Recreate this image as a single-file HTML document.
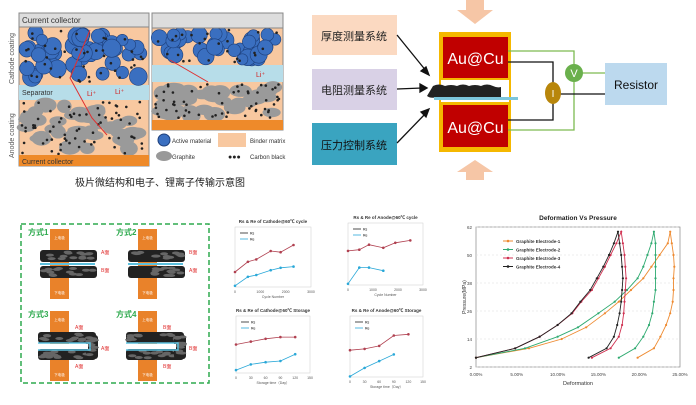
<!DOCTYPE html>
<html><head><meta charset="utf-8"><style>
html,body{margin:0;padding:0;background:#fff;width:696px;height:405px;overflow:hidden}
svg{display:block}
text{font-family:"Liberation Sans","Noto Sans CJK SC",sans-serif}
</style></head><body>
<svg id="s" width="696" height="405" viewBox="0 0 696 405" xmlns="http://www.w3.org/2000/svg">
<rect x="19" y="13" width="130" height="153" fill="#f8c8a0" stroke="#888" stroke-width="1"/>
<rect x="19" y="85" width="130" height="15" fill="#b7dde9"/>
<rect x="152" y="13" width="131" height="117" fill="#f8c8a0" stroke="#888"/>
<rect x="152" y="65" width="131" height="17" fill="#b7dde9"/>
<g id="parts"></g>
<rect x="19" y="13" width="130" height="14" fill="#ddd" stroke="#888"/>
<text x="22" y="23" font-size="8" fill="#333">Current collector</text>
<text x="22" y="95" font-size="7" fill="#333">Separator</text>
<rect x="19" y="155" width="130" height="11" fill="#ee8a2a"/>
<text x="22" y="164" font-size="7" fill="#333">Current collector</text>
<rect x="152" y="13" width="131" height="15" fill="#ddd" stroke="#888"/>
<rect x="152" y="120" width="131" height="10" fill="#ee8a2a"/>
<text x="0" y="0" font-size="7" fill="#555" transform="translate(14,84) rotate(-90)">Cathode coating</text>
<text x="0" y="0" font-size="7" fill="#555" transform="translate(14,158) rotate(-90)">Anode coating</text>
<polyline points="90,30 70,78 92,118 107,135" fill="none" stroke="#e03030" stroke-width="1"/>
<polyline points="170,60 208,82" fill="none" stroke="#e03030" stroke-width="1"/>
<text x="87" y="96" font-size="7" fill="#d02020">Li⁺</text>
<text x="115" y="94" font-size="7" fill="#d02020">Li⁺</text>
<text x="256" y="77" font-size="7" fill="#d02020">Li⁺</text>
<circle cx="164" cy="140" r="6" fill="#3a6fc0" stroke="#1d3f7a"/>
<text x="172" y="143" font-size="6" fill="#333">Active material</text>
<rect x="218" y="133" width="28" height="14" fill="#f8c8a0"/>
<text x="250" y="143" font-size="6" fill="#333">Binder matrix</text>
<ellipse cx="164" cy="156" rx="8" ry="5" fill="#999"/>
<text x="172" y="159" font-size="6" fill="#333">Graphite</text>
<text x="228" y="159" font-size="7" fill="#222">●●●</text>
<text x="250" y="159" font-size="6" fill="#333">Carbon black</text>
<text x="160" y="186" font-size="10" fill="#222" text-anchor="middle">极片微结构和电子、锂离子传输示意图</text>

<polygon points="466,0 484,0 484,10 493,10 475,24 457,10 466,10" fill="#f6c6a6"/>
<polygon points="466,180 484,180 484,172 493,172 475,160 457,172 466,172" fill="#f6c6a6"/>
<rect x="312" y="15" width="85" height="40" fill="#fbd9c1"/>
<text x="354" y="40" font-size="11" text-anchor="middle" fill="#222">厚度测量系统</text>
<rect x="312" y="69" width="85" height="41" fill="#d9d1e6"/>
<text x="354" y="94" font-size="11" text-anchor="middle" fill="#222">电阻测量系统</text>
<rect x="312" y="123" width="85" height="42" fill="#3aa4c0"/>
<text x="354" y="149" font-size="11" text-anchor="middle" fill="#111">压力控制系统</text>
<g stroke="#111" stroke-width="1.3" fill="#111">
<line x1="397" y1="35" x2="427" y2="72"/><polygon points="429,75 421,71 426,67"/>
<line x1="397" y1="89" x2="422" y2="88"/><polygon points="427,88 420,84 420,92"/>
<line x1="397" y1="143" x2="427" y2="112"/><polygon points="429,109 421,112 426,117"/>
</g>
<rect x="439" y="32" width="72" height="120" fill="#f5b800"/>
<rect x="443" y="37" width="65" height="41" fill="#c00000"/>
<rect x="443" y="105" width="65" height="42" fill="#c00000"/>
<rect x="441" y="80" width="68" height="22" fill="#fff"/>
<path d="M433,86 q6,-3 12,0 q6,-2 12,0 q6,-3 12,0 q6,-2 12,0 q6,-3 12,0 q4,2 8,1 l0,10 q-8,3 -16,0 q-8,3 -16,0 q-8,3 -16,0 q-8,3 -16,0 q-6,2 -10,-1z" fill="#222"/>
<rect x="434" y="97" width="84" height="3" fill="#7cc6dc"/>
<text x="475.5" y="64" font-size="16" text-anchor="middle" fill="#fff">Au@Cu</text>
<text x="475.5" y="133" font-size="16" text-anchor="middle" fill="#fff">Au@Cu</text>
<g fill="none" stroke="#7dbb52" stroke-width="1.3">
<polyline points="508,51 574,51 574,130 508,130"/>
<line x1="574" y1="73" x2="606" y2="73"/>
</g>
<g fill="none" stroke="#111" stroke-width="1.3">
<polyline points="508,62 553,62 553,120 508,120"/>
<line x1="553" y1="94" x2="606" y2="94"/>
</g>
<ellipse cx="553" cy="93" rx="8" ry="11" fill="#b8860b"/>
<text x="553" y="97" font-size="10" fill="#fff" text-anchor="middle">I</text>
<circle cx="574" cy="73" r="9" fill="#6ab04c"/>
<text x="574" y="77" font-size="11" fill="#fff" text-anchor="middle">V</text>
<rect x="605" y="63" width="62" height="42" fill="#bcd9ee"/>
<text x="636" y="89" font-size="12" text-anchor="middle" fill="#111">Resistor</text>

<rect x="21" y="224" width="188" height="159" fill="none" stroke="#2eaa4e" stroke-width="1.5" stroke-dasharray="5,3"/>
<g id="modes"></g>
<g id="charts"></g>
</svg>
<script>
var s=document.getElementById('parts'),h='';
var seed=7;function r(){seed=(seed*9301+49297)%233280;return seed/233280;}
function circ(x0,y0,w,hh,n,rad,fill,st){for(var i=0;i<n;i++){var x=x0+r()*w,y=y0+r()*hh,rr=rad*(0.75+r()*0.5);h+='<circle cx="'+x.toFixed(1)+'" cy="'+y.toFixed(1)+'" r="'+rr.toFixed(1)+'" fill="'+fill+'" stroke="'+st+'" stroke-width="0.6"/>';}}
function ell(x0,y0,w,hh,n){for(var i=0;i<n;i++){var x=x0+r()*w,y=y0+r()*hh;h+='<ellipse cx="'+x.toFixed(1)+'" cy="'+y.toFixed(1)+'" rx="'+(7+r()*5).toFixed(1)+'" ry="'+(4.5+r()*3).toFixed(1)+'" fill="#9a9a9a"/>';}}
function dots(x0,y0,w,hh,n){for(var i=0;i<n;i++){h+='<circle cx="'+(x0+r()*w).toFixed(1)+'" cy="'+(y0+r()*hh).toFixed(1)+'" r="1.3" fill="#222"/>';}}
circ(26,32,116,48,48,7.5,'#3a6fc0','#1d3f7a');dots(22,30,124,52,40);
ell(26,105,116,46,38);dots(22,102,124,52,70);
circ(159,32,118,28,36,7.5,'#3a6fc0','#1d3f7a');dots(155,30,125,33,25);
ell(159,87,118,29,36);dots(155,84,125,35,60);
s.innerHTML=h;
h='';
function stack(x,y,w,hh){var o='<rect x="'+x+'" y="'+y+'" width="'+w+'" height="'+hh+'" rx="3" fill="#222"/>';for(var i=0;i<14;i++)o+='<ellipse cx="'+(x+3+r()*(w-6)).toFixed(1)+'" cy="'+(y+2+r()*(hh-4)).toFixed(1)+'" rx="4" ry="1.5" fill="#666"/>';return o;}
function mode(x,y,label,bent,la,lb){var o='<text x="'+x+'" y="'+(y+7)+'" font-size="8" font-weight="bold" fill="#2eaa4e">'+label+'</text>';
o+='<rect x="'+(x+22)+'" y="'+(y+1)+'" width="19" height="70" fill="#e9822a"/>';
o+='<text x="'+(x+31.5)+'" y="'+(y+11)+'" font-size="3.5" fill="#fff" text-anchor="middle">上电极</text><text x="'+(x+31.5)+'" y="'+(y+66)+'" font-size="3.5" fill="#fff" text-anchor="middle">下电极</text>';
if(!bent){o+=stack(x+12,y+22,57,12)+stack(x+12,y+38,57,12)+'<rect x="'+(x+12)+'" y="'+(y+35)+'" width="55" height="2" fill="#5bc0de"/>';
o+='<text x="'+(x+73)+'" y="'+(y+26)+'" font-size="5" fill="#e03030">'+la+'</text><text x="'+(x+73)+'" y="'+(y+44)+'" font-size="5" fill="#e03030">'+lb+'</text>';}
else{o+=stack(x+10,y+22,58,11)+stack(x+10,y+39,58,11)+stack(x+58,y+25,12,24)+'<polyline points="'+(x+10)+','+(y+33)+' '+(x+62)+','+(y+33)+' '+(x+62)+','+(y+40)+' '+(x+10)+','+(y+40)+'" fill="none" stroke="#5bc0de" stroke-width="1.5"/><rect x="'+(x+10)+'" y="'+(y+34)+'" width="50" height="5" fill="#fff"/>';
o+='<text x="'+(x+47)+'" y="'+(y+19)+'" font-size="5" fill="#e03030">'+la+'</text><text x="'+(x+73)+'" y="'+(y+40)+'" font-size="5" fill="#e03030">'+la+'</text><text x="'+(x+47)+'" y="'+(y+58)+'" font-size="5" fill="#e03030">'+lb+'</text>';}
return o;}
h+=mode(28,228,'方式1',0,'A面','B面')+mode(116,228,'方式2',0,'B面','A面')+mode(28,310,'方式3',1,'A面','A面')+mode(116,310,'方式4',1,'B面','B面');
document.getElementById('modes').innerHTML=h;
h='';
function chart(x0,y0,w,hh,title,xl,xt,rs,re){var o='<text x="'+(x0+w/2)+'" y="'+(y0-4)+'" font-size="4.5" font-weight="bold" text-anchor="middle" fill="#333">'+title+'</text>';
o+='<rect x="'+x0+'" y="'+y0+'" width="'+w+'" height="'+hh+'" fill="none" stroke="#ccc" stroke-width="0.5"/>';
for(var i=0;i<xt.length;i++)o+='<text x="'+(x0+i*w/(xt.length-1))+'" y="'+(y0+hh+6)+'" font-size="3.5" text-anchor="middle" fill="#555">'+xt[i]+'</text>';
o+='<text x="'+(x0+w/2)+'" y="'+(y0+hh+11)+'" font-size="3.5" text-anchor="middle" fill="#555">'+xl+'</text>';
function pl(d,c){var p=d.map(function(v){return (x0+v[0]*w).toFixed(1)+','+(y0+hh-v[1]*hh).toFixed(1)}).join(' ');var q='<polyline points="'+p+'" fill="none" stroke="'+c+'" stroke-width="0.8"/>';d.forEach(function(v){q+='<circle cx="'+(x0+v[0]*w).toFixed(1)+'" cy="'+(y0+hh-v[1]*hh).toFixed(1)+'" r="1.3" fill="'+c+'"/>'});return q;}
o+=pl(rs,'#b04050')+pl(re,'#2aa8d8');
o+='<line x1="'+(x0+5)+'" y1="'+(y0+6)+'" x2="'+(x0+13)+'" y2="'+(y0+6)+'" stroke="#222" stroke-width="0.8"/><text x="'+(x0+15)+'" y="'+(y0+7.5)+'" font-size="3.5">Rs</text>';
o+='<line x1="'+(x0+5)+'" y1="'+(y0+12)+'" x2="'+(x0+13)+'" y2="'+(y0+12)+'" stroke="#2aa8d8" stroke-width="0.8"/><text x="'+(x0+15)+'" y="'+(y0+13.5)+'" font-size="3.5">Re</text>';
return o;}
h+=chart(235,227,76,60,'Rs & Re of Cathode@60℃ cycle','Cycle Number',['0','1000','2000','3000'],[[0,.25],[.17,.42],[.28,.46],[.47,.6],[.6,.58],[.77,.7]],[[0,.02],[.17,.17],[.28,.2],[.47,.28],[.6,.32],[.77,.34]]);
h+=chart(348,223,75,62,'Rs & Re of Anode@60℃ cycle','Cycle Number',['0','1000','2000','3000'],[[0,.55],[.15,.57],[.28,.65],[.47,.6],[.63,.68],[.83,.72]],[[0,.02],[.15,.28],[.28,.28],[.47,.23]]);
h+=chart(236,316,74,57,'Rs & Re of Cathode@60℃ Storage','Storage time（Day）',['0','30','60','90','120','150'],[[0,.5],[.2,.55],[.4,.6],[.6,.63],[.8,.63]],[[0,.05],[.2,.15],[.4,.19],[.6,.21],[.8,.33]]);
h+=chart(350,316,73,61,'Rs & Re of Anode@60℃ Storage','Storage time（Day）',['0','30','60','90','120','150'],[[0,.44],[.2,.46],[.4,.51],[.6,.68],[.8,.7]],[[0,.01],[.2,.15],[.4,.26],[.6,.37]]);
var X0=476,Y0=227,W=204,H=140;
h+='<text x="'+(X0+W/2)+'" y="220" font-size="6.5" font-weight="bold" text-anchor="middle" fill="#222">Deformation Vs Pressure</text>';
h+='<rect x="'+X0+'" y="'+Y0+'" width="'+W+'" height="'+H+'" fill="none" stroke="#888" stroke-width="0.7"/>';
var yt=[2,14,26,38,50,62];yt.forEach(function(v){var y=Y0+H-(v-2)/60*H;h+='<line x1="'+X0+'" y1="'+y+'" x2="'+(X0+W)+'" y2="'+y+'" stroke="#ddd" stroke-width="0.5" stroke-dasharray="2,2"/><text x="'+(X0-4)+'" y="'+(y+2)+'" font-size="4.5" text-anchor="end" fill="#444">'+v+'</text>';});
['0.00%','5.00%','10.00%','15.00%','20.00%','25.00%'].forEach(function(t,i){h+='<text x="'+(X0+i*W/5)+'" y="'+(Y0+H+9)+'" font-size="4.5" text-anchor="middle" fill="#444">'+t+'</text>';});
h+='<text x="'+(X0+W/2)+'" y="'+(Y0+H+18)+'" font-size="5.5" text-anchor="middle" fill="#333">Deformation</text>';
h+='<text transform="translate(466,'+(Y0+H/2)+') rotate(-90)" font-size="5" text-anchor="middle" fill="#333">Pressure(MPa)</text>';
function px(d){return X0+d/25*W;}function py(p){return Y0+H-(p-2)/60*H;}
function curve(up,dn,c){var pts=up.concat(dn);var p=pts.map(function(v){return px(v[0]).toFixed(1)+','+py(v[1]).toFixed(1)}).join(' ');var o='<polyline points="'+p+'" fill="none" stroke="'+c+'" stroke-width="0.9"/>';pts.forEach(function(v){o+='<circle cx="'+px(v[0]).toFixed(1)+'" cy="'+py(v[1]).toFixed(1)+'" r="1.1" fill="'+c+'"/>'});return o;}
h+=curve([[0,6],[6.5,10],[10.5,14],[13.5,19],[15.8,25],[17.5,30],[19,35],[20.5,40],[21.5,45],[22.5,50],[23.5,55],[23.8,60]],[[24,55],[24.2,50],[24.3,45],[24.2,40],[24.2,35],[24.1,30],[23.8,25],[23.3,20],[22.6,15],[21.8,10],[19.8,6]],'#ee8a30');
h+=curve([[0,6],[6,10],[10,15],[12.5,19],[15,25],[17,30],[18.5,35],[19.8,40],[20.5,45],[21,50],[21.5,55],[21.8,60]],[[22,55],[22,50],[22,45],[22,40],[22,35],[21.8,30],[21.6,25],[21.2,20],[20.5,15],[19.5,10],[17.5,6]],'#2eaa70');
h+=curve([[0,6],[4.8,10],[7.8,15],[10,20],[11.8,25],[12.9,30],[14.2,35],[15,40],[15.8,45],[16.5,50],[17.2,55],[17.8,60]],[[18,55],[18.2,50],[18.3,45],[18.4,40],[18.3,35],[18.2,30],[18.1,25],[17.9,20],[17.5,15],[16.5,10],[14.2,6]],'#d03050');
h+=curve([[0,6],[4.8,10],[7.8,15],[10,20],[11.7,25],[12.8,30],[14,35],[14.8,40],[15.6,45],[16.3,50],[16.9,55],[17.4,60]],[[17.6,55],[17.8,50],[17.9,45],[18,40],[17.9,35],[17.8,30],[17.6,25],[17.3,20],[16.9,15],[16,10],[13.8,6]],'#222');
var lg=[['Graphite Electrode-1','#ee8a30'],['Graphite Electrode-2','#2eaa70'],['Graphite Electrode-3','#d03050'],['Graphite Electrode-4','#222']];
lg.forEach(function(l,i){var y=241+i*8.5;h+='<line x1="503" y1="'+y+'" x2="513" y2="'+y+'" stroke="'+l[1]+'"/><circle cx="508" cy="'+y+'" r="1.3" fill="'+l[1]+'"/><text x="516" y="'+(y+1.8)+'" font-size="4.5" font-weight="bold" fill="#333">'+l[0]+'</text>';});
document.getElementById('charts').innerHTML=h;
</script>
</body></html>
